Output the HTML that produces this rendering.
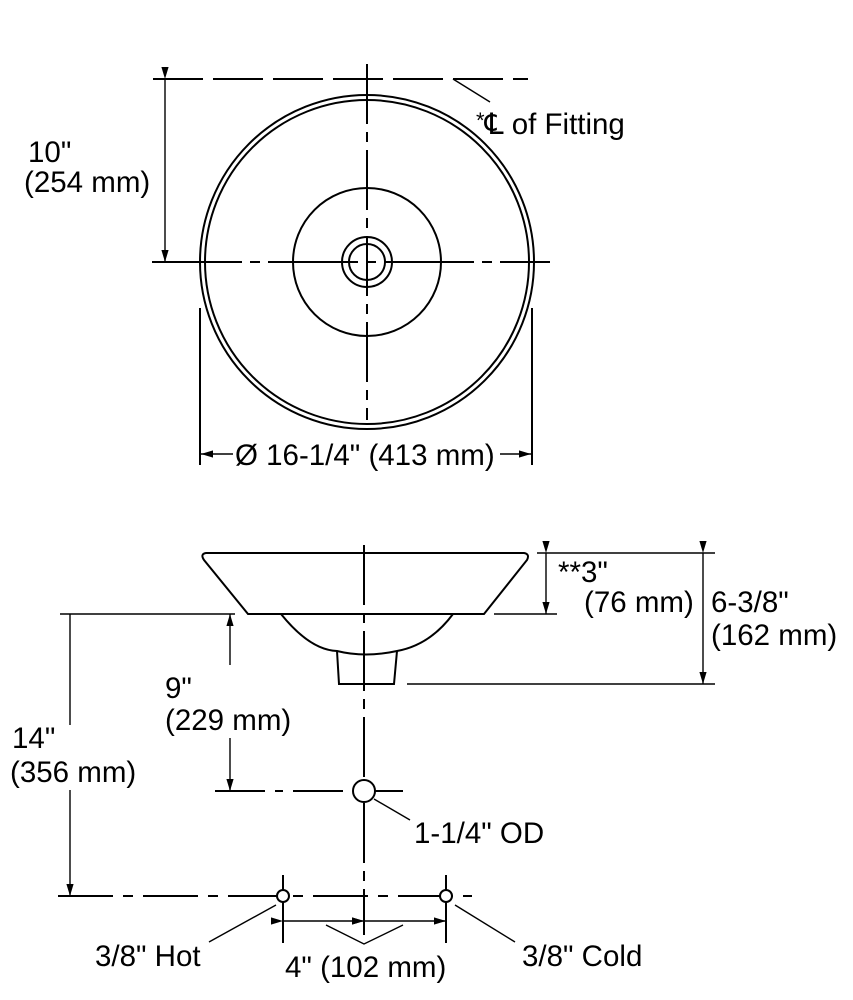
<!DOCTYPE html>
<html><head><meta charset="utf-8"><style>
html,body{margin:0;padding:0;background:#fff;width:853px;height:1000px;overflow:hidden}
svg text{font-family:"Liberation Sans","DejaVu Sans",sans-serif;font-size:29.5px;fill:#000}
</style></head><body>
<svg width="853" height="1000" viewBox="0 0 853 1000" xmlns="http://www.w3.org/2000/svg">
<defs>
<marker id="a" viewBox="0 0 10 10" refX="10" refY="5" markerWidth="12" markerHeight="12" markerUnits="userSpaceOnUse" orient="auto"><path d="M0,2 L10,5 L0,8 z" fill="#000"/></marker>
</defs>
<g stroke="#000" stroke-width="2" fill="none">
<!-- top view -->
<line x1="153" y1="79" x2="528" y2="79" stroke-dasharray="50,10"/>
<line x1="453" y1="79" x2="490" y2="102" stroke-width="1.4"/>
<line x1="367" y1="64" x2="367" y2="420" stroke-dasharray="60,8,10,8"/>
<line x1="152" y1="262" x2="550" y2="262" stroke-dasharray="90,8,10,8"/>
<circle cx="367" cy="262" r="167"/>
<circle cx="367" cy="262" r="162"/>
<circle cx="367" cy="262" r="74"/>
<circle cx="367" cy="262" r="25"/>
<circle cx="367" cy="262" r="18"/>
<line x1="165" y1="79" x2="165" y2="262" stroke-width="1.4" marker-start="url(#a)" marker-end="url(#a)"/>
<line x1="200" y1="308" x2="200" y2="465"/>
<line x1="532" y1="308" x2="532" y2="465"/>
<line x1="233" y1="454" x2="201" y2="454" stroke-width="1.4" marker-end="url(#a)"/>
<line x1="500" y1="454" x2="531" y2="454" stroke-width="1.4" marker-end="url(#a)"/>
<!-- side view -->
<path d="M206,553 L524,553 Q530,554 527,560 L484,614 L248,614 L204,560 Q200,554 206,553 Z"/>
<path d="M281,614 Q310,650 337,651 Q365,658 397,651 Q430,645 453,614"/>
<path d="M337,651 L339,684 L394,684 L397,651"/>
<line x1="364" y1="545" x2="364" y2="935" stroke-dasharray="60,8,10,8"/>
<line x1="537" y1="553" x2="715" y2="553" stroke-width="1.4"/>
<line x1="494" y1="614" x2="557" y2="614" stroke-width="1.4"/>
<line x1="407" y1="684" x2="715" y2="684" stroke-width="1.4"/>
<line x1="546" y1="553" x2="546" y2="614" stroke-width="1.4" marker-start="url(#a)" marker-end="url(#a)"/>
<line x1="703" y1="553" x2="703" y2="684" stroke-width="1.4" marker-start="url(#a)" marker-end="url(#a)"/>
<line x1="60" y1="614" x2="235" y2="614" stroke-width="1.4"/>
<line x1="230" y1="665" x2="230" y2="614" stroke-width="1.4" marker-end="url(#a)"/>
<line x1="230" y1="738" x2="230" y2="791" stroke-width="1.4" marker-end="url(#a)"/>
<line x1="70" y1="614" x2="70" y2="725" stroke-width="1.4"/>
<line x1="70" y1="790" x2="70" y2="896" stroke-width="1.4" marker-end="url(#a)"/>
<line x1="215" y1="791" x2="353" y2="791" stroke-dasharray="50,10,8,10"/>
<line x1="375" y1="791" x2="403" y2="791"/>
<circle cx="364" cy="791" r="11" fill="#fff"/>
<line x1="374" y1="799" x2="410" y2="820" stroke-width="1.4"/>
<line x1="58" y1="896" x2="472" y2="896" stroke-dasharray="55,10,10,10"/>
<circle cx="283" cy="896" r="6" fill="#fff"/>
<circle cx="446" cy="896" r="6" fill="#fff"/>
<line x1="283" y1="875" x2="283" y2="890"/>
<line x1="283" y1="902" x2="283" y2="943"/>
<line x1="446" y1="875" x2="446" y2="890"/>
<line x1="446" y1="902" x2="446" y2="943"/>
<line x1="283" y1="921" x2="364" y2="921" stroke-width="1.4" marker-start="url(#a)" marker-end="url(#a)"/>
<line x1="364" y1="921" x2="446" y2="921" stroke-width="1.4" marker-start="url(#a)" marker-end="url(#a)"/>
<path d="M326,925 L364,944 L403,925" stroke-width="1.4"/>
<line x1="276" y1="905" x2="209" y2="942" stroke-width="1.4"/>
<line x1="455" y1="905" x2="515" y2="942" stroke-width="1.4"/>
</g>
<text x="476" y="134"><tspan font-size="22" dy="-6">*</tspan><tspan dy="6">℄ of Fitting</tspan></text>
<text x="28" y="162">10"</text>
<text x="24" y="192">(254 mm)</text>
<text x="235" y="465">Ø 16-1/4" (413 mm)</text>
<text x="558" y="582">**3"</text>
<text x="584" y="612">(76 mm)</text>
<text x="711" y="612">6-3/8"</text>
<text x="711" y="645">(162 mm)</text>
<text x="165" y="698">9"</text>
<text x="165" y="730">(229 mm)</text>
<text x="12" y="748">14"</text>
<text x="10" y="782">(356 mm)</text>
<text x="414" y="843">1-1/4" OD</text>
<text x="95" y="966">3/8" Hot</text>
<text x="285" y="977">4" (102 mm)</text>
<text x="522" y="966">3/8" Cold</text>
</svg>
</body></html>
